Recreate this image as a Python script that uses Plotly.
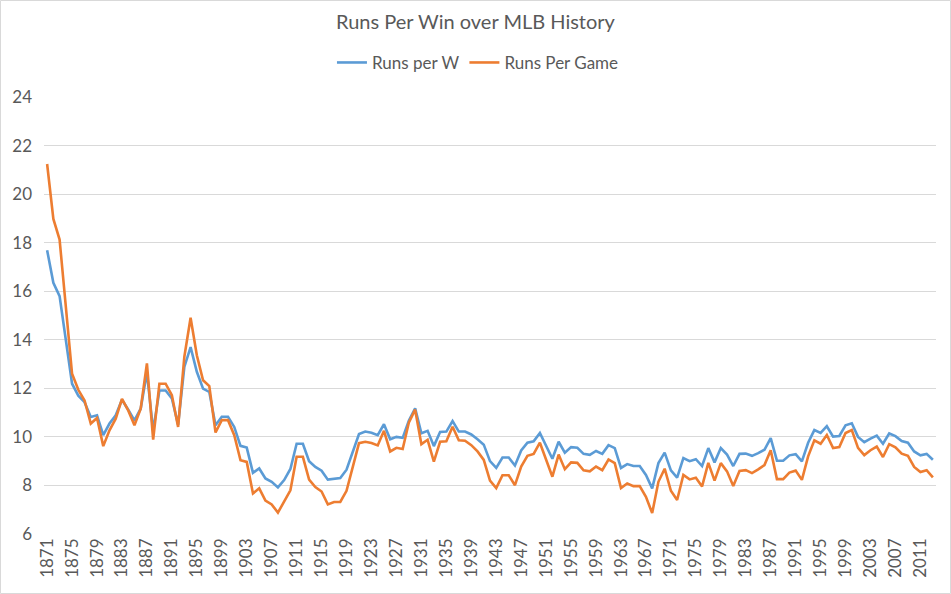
import plotly.graph_objects as go

years = list(range(1871, 2014))

runs_per_game = [
    21.24, 18.98, 18.13, 15.2, 12.6, 11.94, 11.5, 10.55, 10.78, 9.62,
    10.27, 10.75, 11.57, 11.09, 10.48, 11.16, 13.03, 9.89, 12.19, 12.19,
    11.72, 10.41, 13.3, 14.91, 13.36, 12.33, 12.09, 10.18, 10.69, 10.69,
    10.07, 9.04, 8.97, 7.67, 7.88, 7.38, 7.22, 6.88, 7.33, 7.8,
    9.18, 9.18, 8.24, 7.93, 7.75, 7.22, 7.32, 7.32, 7.78, 8.75,
    9.74, 9.8, 9.75, 9.65, 10.25, 9.4, 9.55, 9.5, 10.6, 11.12,
    9.7, 9.88, 8.98, 9.8, 9.82, 10.42, 9.86, 9.84, 9.66, 9.4,
    9.05, 8.2, 7.89, 8.42, 8.42, 8.01, 8.78, 9.22, 9.3, 9.76,
    9.05, 8.36, 9.27, 8.67, 8.95, 8.93, 8.62, 8.58, 8.78, 8.63,
    9.07, 8.92, 7.89, 8.08, 7.97, 7.97, 7.53, 6.86, 8.15, 8.69,
    7.78, 7.4, 8.43, 8.25, 8.32, 7.96, 8.93, 8.2, 8.92, 8.58,
    7.98, 8.6, 8.63, 8.51, 8.66, 8.84, 9.45, 8.26, 8.26, 8.53,
    8.61, 8.23, 9.2, 9.86, 9.72, 10.08, 9.54, 9.58, 10.16, 10.28,
    9.55, 9.25, 9.45, 9.6, 9.17, 9.7, 9.57, 9.31, 9.22, 8.76,
    8.55, 8.63, 8.33,
]

runs_per_win = [
    17.69, 16.35, 15.8, 13.9, 12.19, 11.7, 11.43, 10.82, 10.89, 10.07,
    10.55, 10.89, 11.53, 11.12, 10.68, 11.16, 12.66, 10.25, 11.91, 11.91,
    11.58, 10.5, 12.88, 13.7, 12.68, 11.99, 11.85, 10.48, 10.83, 10.83,
    10.41, 9.63, 9.56, 8.52, 8.7, 8.29, 8.15, 7.92, 8.22, 8.68,
    9.72, 9.72, 9.0, 8.76, 8.61, 8.24, 8.29, 8.31, 8.65, 9.4,
    10.12, 10.22, 10.17, 10.07, 10.52, 9.9, 10.0, 9.96, 10.67, 11.18,
    10.15, 10.25, 9.62, 10.2, 10.22, 10.65, 10.22, 10.22, 10.1, 9.9,
    9.68, 9.0, 8.72, 9.15, 9.15, 8.82, 9.44, 9.76, 9.82, 10.16,
    9.66, 9.1, 9.8, 9.35, 9.58, 9.55, 9.3, 9.26, 9.42, 9.3,
    9.66, 9.54, 8.72, 8.88, 8.8, 8.8, 8.43, 7.88, 8.92, 9.35,
    8.62, 8.32, 9.13, 9.0, 9.08, 8.8, 9.54, 8.95, 9.54, 9.27,
    8.8, 9.3, 9.31, 9.22, 9.33, 9.47, 9.95, 9.02, 9.02, 9.24,
    9.29, 8.99, 9.76, 10.28, 10.16, 10.44, 10.01, 10.04, 10.48, 10.56,
    10.0, 9.78, 9.93, 10.05, 9.72, 10.14, 10.03, 9.83, 9.76, 9.4,
    9.24, 9.3, 9.06,
]

assert len(years) == len(runs_per_game) == len(runs_per_win)

tick_years = list(range(1871, 2014, 4))
y_ticks = [6, 8, 10, 12, 14, 16, 18, 20, 22, 24]

FONT = "Lato, Calibri, 'Liberation Sans', sans-serif"
GRAY = "#595959"

fig = go.Figure()
fig.add_trace(go.Scatter(
    x=years, y=runs_per_win, mode="lines", name="Runs per W",
    line=dict(color="#5B9BD5", width=2.6),
))
fig.add_trace(go.Scatter(
    x=years, y=runs_per_game, mode="lines", name="Runs Per Game",
    line=dict(color="#ED7D31", width=2.6),
))

fig.update_layout(
    width=951, height=594,
    margin=dict(l=44, r=15, t=97, b=60, autoexpand=False),
    paper_bgcolor="white", plot_bgcolor="white",
    font=dict(family=FONT, color=GRAY, size=17),
    title=dict(text="Runs Per Win over MLB History", x=0.5, xanchor="center",
               y=0.963, yanchor="middle", font=dict(size=20, color=GRAY, family=FONT)),
    legend=dict(orientation="h", x=0.4865, xanchor="center", y=1.078, yanchor="middle",
                font=dict(size=17, color=GRAY, family=FONT), itemwidth=30,
                bgcolor="rgba(0,0,0,0)"),
    showlegend=True,
)
fig.update_xaxes(
    range=[1870.5, 2013.5], tickmode="array", tickvals=tick_years,
    ticktext=[str(t) for t in tick_years], tickangle=-90, automargin=False,
    showgrid=False, zeroline=False, showline=False, ticks="",
    tickfont=dict(size=17, color=GRAY, family=FONT),
)
fig.update_yaxes(
    range=[6, 24], tickmode="array", tickvals=y_ticks, automargin=False,
    showgrid=True, gridcolor="#D9D9D9", gridwidth=1, zeroline=False,
    showline=False, ticks="", ticklabelstandoff=11,
    tickfont=dict(size=17, color=GRAY, family=FONT),
)
# light outer chart border
fig.add_shape(type="rect", xref="paper", yref="paper",
              x0=-43.5/892, x1=1 + 14.5/892, y0=-59.5/437, y1=1 + 96.5/437,
              line=dict(color="#D9D9D9", width=1), fillcolor="rgba(0,0,0,0)")

fig.write_html("out.html", config={"displayModeBar": False},
               post_script="document.body.style.margin='0';document.body.style.overflow='hidden';")
